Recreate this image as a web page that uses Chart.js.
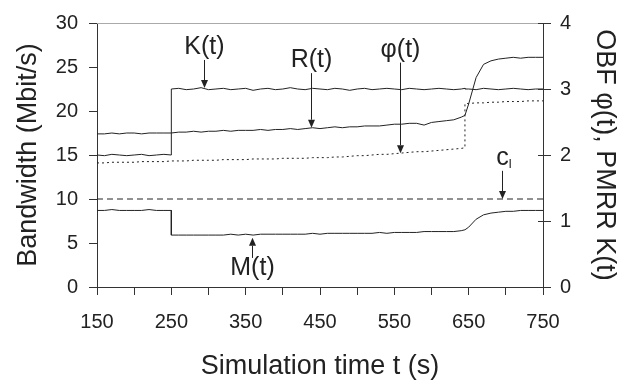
<!DOCTYPE html>
<html>
<head>
<meta charset="utf-8">
<script src="https://cdn.jsdelivr.net/npm/chart.js@4/dist/chart.umd.min.js"></script>
<style>
  html, body { margin: 0; padding: 0; background: #fff; }
  #wrap { width: 624px; height: 380px; }
</style>
</head>
<body>
<div id="wrap"><canvas id="bw-chart" width="624" height="380"></canvas></div>
<script>
// Simulation time (s); 250 and 645 appear twice for the step changes
const times = [
  150, 160, 170, 180, 190, 200, 210, 220, 230, 240, 250,
  250, 260, 270, 280, 290, 300, 310, 320, 330, 340,
  350, 360, 370, 380, 390, 400, 410, 420, 430, 440,
  450, 460, 470, 480, 490, 500, 510, 520, 530, 540,
  550, 560, 570, 580, 590, 600, 610, 620, 630, 640,
  645, 645, 650, 660, 670, 680, 690, 700, 710, 720,
  730, 740, 750
];

// PMRR K(t), right axis
const kValues = [
  2.00, 1.99, 2.01, 2.00, 1.99, 2.00, 2.01, 1.99, 2.00, 2.01, 2.00,
  3.00, 3.01, 2.99, 3.00, 3.02, 2.99, 3.00, 3.01, 2.99, 3.00,
  3.01, 2.98, 3.00, 3.01, 2.99, 3.00, 3.02, 3.00, 2.99, 3.01,
  3.00, 2.99, 3.01, 3.00, 2.98, 3.00, 3.01, 2.99, 3.00, 3.01,
  3.00, 2.99, 3.01, 3.00, 2.99, 3.00, 3.01, 3.00, 2.99, 3.00,
  3.01, 3.00, 3.00, 2.99, 3.01, 3.00, 2.99, 3.00, 3.01, 3.00,
  2.99, 3.00, 3.00
];

// R(t) in Mbit/s, left axis
const rValues = [
  17.4, 17.4, 17.5, 17.4, 17.5, 17.5, 17.4, 17.5, 17.5, 17.5, 17.5,
  17.5, 17.6, 17.6, 17.7, 17.6, 17.7, 17.7, 17.8, 17.7, 17.8,
  17.8, 17.8, 17.9, 17.8, 17.9, 17.9, 18.0, 17.9, 18.0, 18.1,
  18.0, 18.1, 18.2, 18.1, 18.2, 18.2, 18.3, 18.3, 18.3, 18.4,
  18.5, 18.5, 18.6, 18.6, 18.4, 18.7, 18.8, 18.9, 19.0, 19.3,
  19.5, 19.5, 20.8, 23.8, 25.3, 25.7, 25.9, 26.0, 26.1, 26.0,
  26.1, 26.1, 26.1
];

// OBF phi(t), right axis
const phiValues = [
  1.88, 1.88, 1.89, 1.89, 1.89, 1.89, 1.90, 1.90, 1.90, 1.90, 1.91,
  1.91, 1.91, 1.91, 1.92, 1.92, 1.92, 1.92, 1.93, 1.93, 1.93,
  1.93, 1.94, 1.94, 1.94, 1.94, 1.95, 1.95, 1.95, 1.95, 1.96,
  1.96, 1.96, 1.97, 1.97, 1.98, 1.99, 1.99, 2.00, 2.01, 2.01,
  2.02, 2.03, 2.04, 2.05, 2.05, 2.06, 2.07, 2.08, 2.09, 2.10,
  2.11, 2.78, 2.78, 2.79, 2.79, 2.80, 2.80, 2.81, 2.81, 2.81,
  2.82, 2.82, 2.82
];

// M(t) in Mbit/s, left axis
const mValues = [
  8.7, 8.7, 8.8, 8.7, 8.7, 8.7, 8.7, 8.8, 8.7, 8.7, 8.7,
  5.9, 5.9, 5.9, 5.9, 5.9, 5.9, 5.9, 5.9, 6.0, 5.9,
  6.0, 5.9, 6.0, 6.0, 6.0, 6.0, 6.0, 6.0, 6.0, 6.1,
  6.0, 6.1, 6.1, 6.1, 6.1, 6.1, 6.1, 6.1, 6.2, 6.1,
  6.2, 6.2, 6.2, 6.2, 6.3, 6.3, 6.3, 6.3, 6.3, 6.4,
  6.5, 6.5, 6.8, 7.7, 8.2, 8.4, 8.5, 8.6, 8.6, 8.7,
  8.7, 8.7, 8.7
];

// capacity c_l, left axis
const capTimes = [150, 750];
const capValues = [10, 10];

// curve labels with arrows (t, label / tail / tip in Mbit/s units)
const notes = [
  { text: 'K(t)', t: 294, labelY: 27.3, tailY: 25.8, tipY: 22.6 },
  { text: 'R(t)', t: 438, labelY: 25.8, tailY: 24.3, tipY: 18.1 },
  { text: 'φ(t)', t: 558, labelY: 26.9, tailY: 25.5, tipY: 15.2 },
  { text: 'c', sub: 'l', t: 695, labelY: 14.6, tailY: 13.2, tipY: 10.0 },
  { text: 'M(t)', t: 359, labelY: 2.1, tailY: 3.3, tipY: 5.6 }
];

const ink = '#222';
const fontFamily = '"Liberation Sans", Arial, sans-serif';

const toPoints = (xs, ys) => xs.map((x, i) => ({ x: x, y: ys[i] }));

const lineStyle = {
  borderColor: ink,
  borderWidth: 1,
  pointRadius: 0,
  tension: 0,
  fill: false
};

// light frame line on top, inner stubs on right axis, arrows and labels
const decorations = {
  id: 'decorations',
  afterDraw(chart) {
    const ctx = chart.ctx;
    const area = chart.chartArea;
    const xs = chart.scales.x;
    const ys = chart.scales.y;
    const y2 = chart.scales.y2;

    ctx.save();
    ctx.strokeStyle = '#aaa';
    ctx.lineWidth = 1;
    ctx.beginPath();
    ctx.moveTo(area.left, area.top + 0.5);
    ctx.lineTo(area.right, area.top + 0.5);
    ctx.stroke();

    ctx.strokeStyle = '#333';
    y2.ticks.forEach(tk => {
      const py = Math.round(y2.getPixelForValue(tk.value)) + 0.5;
      ctx.beginPath();
      ctx.moveTo(area.right - 5, py);
      ctx.lineTo(area.right, py);
      ctx.stroke();
    });

    notes.forEach(n => {
      const px = Math.round(xs.getPixelForValue(n.t)) + 0.5;
      const ly = ys.getPixelForValue(n.labelY);
      const ty = ys.getPixelForValue(n.tailY);
      const hy = ys.getPixelForValue(n.tipY);
      const dir = hy > ty ? 1 : -1;
      const head = 8;

      ctx.strokeStyle = ink;
      ctx.fillStyle = ink;
      ctx.beginPath();
      ctx.moveTo(px, ty);
      ctx.lineTo(px, hy - dir * head);
      ctx.stroke();
      ctx.beginPath();
      ctx.moveTo(px, hy);
      ctx.lineTo(px - 3.5, hy - dir * head);
      ctx.lineTo(px + 3.5, hy - dir * head);
      ctx.closePath();
      ctx.fill();

      ctx.textBaseline = 'middle';
      ctx.font = '25px ' + fontFamily;
      if (n.sub) {
        ctx.textAlign = 'center';
        ctx.fillText(n.text, px, ly);
        const w = ctx.measureText(n.text).width;
        ctx.font = '13px ' + fontFamily;
        ctx.textAlign = 'left';
        ctx.fillText(n.sub, px + w / 2, ly + 6);
      } else {
        ctx.textAlign = 'center';
        ctx.fillText(n.text, px, ly);
      }
    });
    ctx.restore();
  }
};

const tickFont = { family: fontFamily, size: 20, lineHeight: 1.2 };
const titleFont = { family: fontFamily, size: 27, lineHeight: 1.0 };

new Chart(document.getElementById('bw-chart'), {
  type: 'line',
  data: {
    datasets: [
      { label: 'K(t)', data: toPoints(times, kValues), yAxisID: 'y2', ...lineStyle },
      { label: 'R(t)', data: toPoints(times, rValues), yAxisID: 'y', ...lineStyle },
      { label: 'φ(t)', data: toPoints(times, phiValues), yAxisID: 'y2', ...lineStyle, borderDash: [2, 3] },
      { label: 'M(t)', data: toPoints(times, mValues), yAxisID: 'y', ...lineStyle },
      { label: 'c_l', data: toPoints(capTimes, capValues), yAxisID: 'y', ...lineStyle, borderDash: [6, 4] }
    ]
  },
  options: {
    responsive: false,
    animation: false,
    layout: { padding: { top: 15, left: 0, right: 0, bottom: 0 } },
    plugins: {
      legend: { display: false },
      tooltip: { enabled: false }
    },
    scales: {
      x: {
        type: 'linear',
        min: 150,
        max: 750,
        afterFit: s => { s.height = 93; },
        ticks: {
          stepSize: 50,
          autoSkip: false,
          maxRotation: 0,
          padding: 15,
          color: ink,
          font: tickFont,
          callback: v => ((v - 150) % 100 === 0 ? v : '')
        },
        grid: { drawOnChartArea: false, tickLength: 8, color: '#333' },
        border: { color: '#333', width: 1 },
        title: {
          display: true,
          text: 'Simulation time t (s)',
          color: ink,
          font: titleFont,
          padding: { top: 0, bottom: 0 }
        }
      },
      y: {
        position: 'left',
        min: 0,
        max: 30,
        afterFit: s => { s.width = 97; },
        ticks: { stepSize: 5, padding: 11, color: ink, font: tickFont },
        grid: { drawOnChartArea: false, tickLength: 8, color: '#333' },
        border: { color: '#333', width: 1 },
        title: {
          display: true,
          text: 'Bandwidth (Mbit/s)',
          color: ink,
          font: titleFont,
          padding: { top: 15, bottom: 0 }
        }
      },
      y2: {
        position: 'right',
        min: 0,
        max: 4,
        afterFit: s => { s.width = 81; },
        ticks: { stepSize: 1, padding: 9, color: ink, font: tickFont },
        grid: { drawOnChartArea: false, tickLength: 8, color: '#333' },
        border: { color: '#333', width: 1 },
        title: {
          display: true,
          text: 'OBF φ(t), PMRR K(t)',
          color: ink,
          font: titleFont,
          padding: { top: 6, bottom: 0 }
        }
      }
    }
  },
  plugins: [decorations]
});
</script>
</body>
</html>
